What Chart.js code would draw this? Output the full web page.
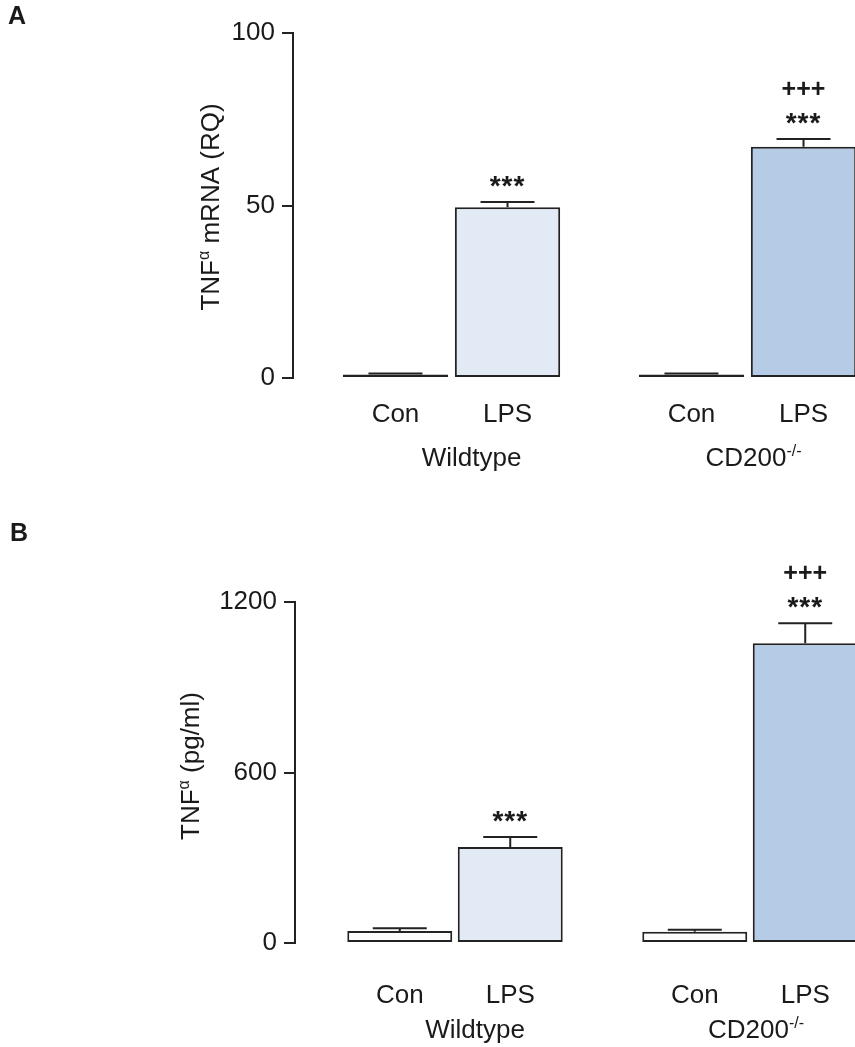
<!DOCTYPE html>
<html>
<head>
<meta charset="utf-8">
<script src="https://cdn.jsdelivr.net/npm/chart.js@4.4.1/dist/chart.umd.min.js"></script>
<style>
  html, body { margin: 0; padding: 0; background: #ffffff; overflow: hidden; width: 855px; height: 1047px; }
  #wrapA { position: absolute; left: 0; top: 0; width: 900px; height: 500px; }
  #wrapB { position: absolute; left: 0; top: 500px; width: 900px; height: 547px; }
  canvas { display: block; }
</style>
</head>
<body>
<div id="wrapA"><canvas id="cA" width="900" height="500"></canvas></div>
<div id="wrapB"><canvas id="cB" width="900" height="547"></canvas></div>
<script>
// ---------- data ----------
const groups = ['Wildtype', 'CD200'];
const groupSup = ['', '-/-'];
const treatments = ['Con', 'LPS'];

const mrnaCon = [1.0, 1.0];
const mrnaConErr = [0.3, 0.3];
const mrnaLps = [49.5, 67.0];
const mrnaLpsErr = [1.5, 2.3];
const mrnaTicks = [0, 50, 100];

const proteinCon = [42, 40];
const proteinConErr = [10, 7];
const proteinLps = [338, 1055];
const proteinLpsErr = [35, 70];
const proteinTicks = [0, 600, 1200];

const starsLps = ['***', '***'];
const plusLps = ['', '+++'];

// ---------- style ----------
const FONT = '"Liberation Sans", Arial, Helvetica, sans-serif';
const INK = '#222222';
const TEXT = '#1a1a1a';

function drawRich(ctx, parts, x, y, size, align) {
  const supSize = Math.round(size * 0.62);
  const widths = parts.map(p => {
    ctx.font = (p[1] ? supSize : size) + 'px ' + FONT;
    return ctx.measureText(p[0]).width;
  });
  const total = widths.reduce((a, b) => a + b, 0);
  let cx = align === 'center' ? x - total / 2 : x;
  ctx.textAlign = 'left';
  ctx.textBaseline = 'alphabetic';
  parts.forEach((p, i) => {
    ctx.font = (p[1] ? supSize : size) + 'px ' + FONT;
    ctx.fillText(p[0], cx, p[1] ? y - size * 0.38 : y);
    cx += widths[i];
  });
}

const figurePlugin = {
  id: 'figure',
  afterLayout(chart) {
    const o = chart.options.plugins.figure;
    const y = chart.scales.y;
    const d = o.axisX - y.right;
    y.left += d;
    y.right += d;
  },
  afterDatasetsDraw(chart) {
    const o = chart.options.plugins.figure;
    const ctx = chart.ctx;
    const ys = chart.scales.y;
    ctx.save();
    ctx.strokeStyle = INK;
    ctx.lineWidth = 2;
    chart.data.datasets.forEach((ds, di) => {
      const meta = chart.getDatasetMeta(di);
      meta.data.forEach((bar, i) => {
        const topPx = ys.getPixelForValue(ds.data[i] + ds.errors[i]);
        ctx.beginPath();
        ctx.moveTo(bar.x, bar.y);
        ctx.lineTo(bar.x, topPx);
        ctx.moveTo(bar.x - o.capHalf, topPx);
        ctx.lineTo(bar.x + o.capHalf, topPx);
        ctx.stroke();
      });
    });
    ctx.restore();
  },
  afterDraw(chart) {
    const o = chart.options.plugins.figure;
    const ctx = chart.ctx;
    const ys = chart.scales.y;
    const xs = chart.scales.x;
    const area = chart.chartArea;
    ctx.save();
    ctx.fillStyle = TEXT;

    // significance marks above LPS bars
    const lpsDs = chart.data.datasets[1];
    const lpsMeta = chart.getDatasetMeta(1);
    lpsMeta.data.forEach((bar, i) => {
      const capPx = ys.getPixelForValue(lpsDs.data[i] + lpsDs.errors[i]);
      ctx.textAlign = 'center';
      ctx.textBaseline = 'alphabetic';
      if (starsLps[i]) {
        ctx.font = 'bold 28px ' + FONT;
        ctx.letterSpacing = '1px';
        ctx.fillText(starsLps[i], bar.x, capPx - o.starGap);
      }
      if (plusLps[i]) {
        ctx.font = 'bold 25px ' + FONT;
        ctx.letterSpacing = '0px';
        ctx.fillText(plusLps[i], bar.x, capPx - o.plusGap);
      }
    });
    ctx.letterSpacing = '0px';

    // treatment labels under each bar
    ctx.font = '26px ' + FONT;
    ctx.textAlign = 'center';
    ctx.textBaseline = 'alphabetic';
    chart.data.datasets.forEach((ds, di) => {
      chart.getDatasetMeta(di).data.forEach(bar => {
        ctx.fillText(ds.label, bar.x, area.bottom + o.labelDy1);
      });
    });

    // group labels
    groups.forEach((g, i) => {
      const cx = xs.getPixelForValue(i) + o.groupShift[i];
      const parts = [[g]];
      if (groupSup[i]) parts.push([groupSup[i], true]);
      drawRich(ctx, parts, cx, area.bottom + o.labelDy2, 26, 'center');
    });

    // rotated y-axis title
    ctx.save();
    ctx.translate(o.titleX, o.titleY);
    ctx.rotate(-Math.PI / 2);
    drawRich(ctx, o.titleParts, 0, 0, 26, 'center');
    ctx.restore();

    // panel letter
    ctx.font = 'bold 25px ' + FONT;
    ctx.textAlign = 'left';
    ctx.textBaseline = 'alphabetic';
    ctx.fillText(o.panel, o.panelX, o.panelY);
    ctx.restore();
  }
};

function makeChart(id, cfg) {
  return new Chart(document.getElementById(id), {
    type: 'bar',
    data: {
      labels: groups,
      datasets: [
        {
          label: treatments[0],
          data: cfg.con,
          errors: cfg.conErr,
          backgroundColor: '#fcfcfc',
          borderColor: INK,
          borderWidth: 2,
          borderSkipped: false,
          categoryPercentage: cfg.catPct,
          barPercentage: cfg.barPct
        },
        {
          label: treatments[1],
          data: cfg.lps,
          errors: cfg.lpsErr,
          backgroundColor: ['#e2eaf5', '#b5cbe6'],
          borderColor: INK,
          borderWidth: 2,
          borderSkipped: false,
          categoryPercentage: cfg.catPct,
          barPercentage: cfg.barPct
        }
      ]
    },
    options: {
      responsive: false,
      animation: false,
      events: [],
      layout: { padding: { left: 0, right: cfg.padRight, top: cfg.padTop, bottom: cfg.padBottom } },
      plugins: {
        legend: { display: false },
        tooltip: { enabled: false },
        figure: cfg.fig
      },
      scales: {
        x: { display: false, offset: true },
        y: {
          min: 0,
          max: cfg.ticks[cfg.ticks.length - 1],
          afterFit: s => { s.width = cfg.left; },
          afterBuildTicks: s => { s.ticks = cfg.ticks.map(v => ({ value: v })); },
          grid: { drawOnChartArea: false, drawTicks: true, tickLength: 11, color: INK, lineWidth: 2 },
          border: { display: true, color: INK, width: 2 },
          ticks: {
            padding: 7, color: TEXT, font: { family: FONT, size: 26 },
            callback: v => String(v)
          }
        }
      }
    },
    plugins: [figurePlugin]
  });
}

makeChart('cA', {
  con: mrnaCon, conErr: mrnaConErr, lps: mrnaLps, lpsErr: mrnaLpsErr, ticks: mrnaTicks,
  catPct: 0.757, barPct: 0.94,
  left: 303.5, padRight: 4.5, padTop: 33, padBottom: 122,
  fig: {
    axisX: 293, capHalf: 27, starGap: 7, plusGap: 42,
    labelDy1: 44, labelDy2: 88, groupShift: [20, 6],
    titleX: 219, titleY: 207, titleParts: [['TNF'], ['\u03b1', true], [' mRNA (RQ)']],
    panel: 'A', panelX: 8, panelY: 24
  }
});

makeChart('cB', {
  con: proteinCon, conErr: proteinConErr, lps: proteinLps, lpsErr: proteinLpsErr, ticks: proteinTicks,
  catPct: 0.749, barPct: 0.95,
  left: 307.5, padRight: 2.5, padTop: 102, padBottom: 104,
  fig: {
    axisX: 295, capHalf: 27, starGap: 7, plusGap: 42,
    labelDy1: 60, labelDy2: 95, groupShift: [20, 6],
    titleX: 199, titleY: 266, titleParts: [['TNF'], ['\u03b1', true], [' (pg/ml)']],
    panel: 'B', panelX: 10, panelY: 41
  }
});
</script>
</body>
</html>
